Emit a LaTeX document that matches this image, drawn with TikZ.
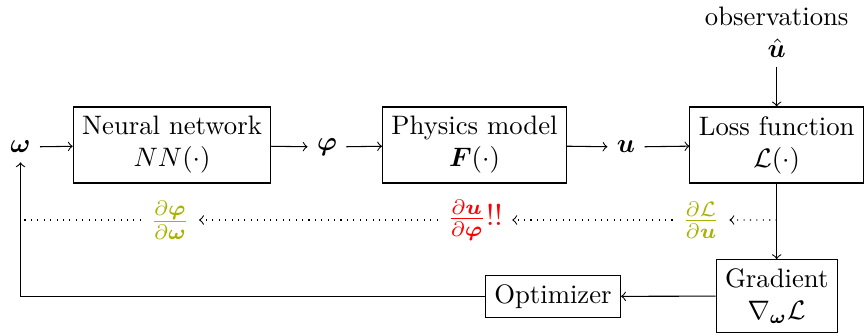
\documentclass[tikz,border=0pt]{standalone}
\usepackage{amsmath}
\usepackage{bm}
\definecolor{gradcol}{RGB}{168,178,0}
\tikzset{
  blockbox/.style={draw, align=center, inner sep=3.33pt},
  tallbox/.style={blockbox, minimum height=28.46pt},
  sym/.style={inner sep=3.33pt},
  dlabel/.style={inner sep=3.0pt, scale=1.12, transform shape},
  flow/.style={->},
  back/.style={dotted,->},
}
\begin{document}
\begin{tikzpicture}[x=0.3745pt,y=-0.3745pt]
\useasboundingbox (0,0) rectangle (864,336);
\node[sym] (omega) at (20.5,147) {$\bm{\omega}$};
\node[tallbox] (nn) at (172,145) {Neural network\\$NN(\cdot)$};
\node[sym] (phi) at (327,147) {$\bm{\varphi}$};
\node[tallbox] (phys) at (474.5,145) {Physics model\\$\bm{F}(\cdot)$};
\node[sym] (u) at (626,147) {$\bm{u}$};
\node[tallbox] (loss) at (776.7,145) {Loss function\\$\mathcal{L}(\cdot)$};
\node[align=center, anchor=south, inner sep=3.33pt] (obs) at (776.7,67) {observations\\$\hat{\bm{u}}$};
\node[blockbox] (grad) at (776.7,296) {Gradient\\$\nabla_{\bm{\omega}}\mathcal{L}$};
\node[blockbox] (opt) at (553,296.5) {Optimizer};
\coordinate (bstart) at (776.7,220);
\node[dlabel, text=gradcol] (dLdu) at (701,220) {$\frac{\partial\mathcal{L}}{\partial\bm{u}}$};
\node[dlabel, text=red] (dudphi) at (475,220) {$\frac{\partial\bm{u}}{\partial\bm{\varphi}}$!!};
\node[dlabel, text=gradcol] (dphidw) at (170,220) {$\frac{\partial\bm{\varphi}}{\partial\bm{\omega}}$};
\draw[flow] (omega) -- (nn);
\draw[flow] (nn) -- (phi);
\draw[flow] (phi) -- (phys);
\draw[flow] (phys) -- (u);
\draw[flow] (u) -- (loss);
\draw[flow] (obs) -- (loss);
\draw[flow] (loss) -- (grad);
\draw[flow] (grad) -- (opt);
\draw[flow] (opt.west) -| (omega.south);
\draw[back] (bstart) -- (dLdu);
\draw[back] (dLdu) -- (dudphi);
\draw[back] (dudphi) -- (dphidw);
\draw[dotted] (dphidw) -- (dphidw -| omega.south);
\end{tikzpicture}
\end{document}
